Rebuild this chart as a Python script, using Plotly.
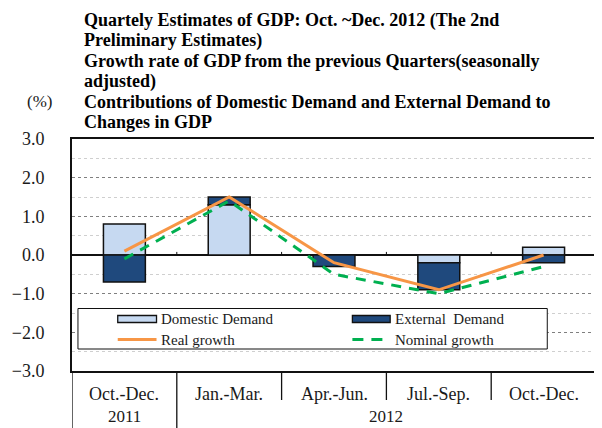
import plotly.graph_objects as go

# ---- data ----
periods = ["Oct.-Dec.", "Jan.-Mar.", "Apr.-Jun.", "Jul.-Sep.", "Oct.-Dec."]
years = ["2011", "2012", "2012", "2012", "2012"]
domestic = [0.8, 1.3, 0.0, -0.2, 0.2]
external = [-0.7, 0.2, -0.3, -0.7, -0.2]
real_growth = [0.1, 1.5, -0.2, -0.9, 0.0]
nominal_growth = [-0.1, 1.4, -0.5, -1.0, -0.3]
y_ticks = [-3, -2, -1, 0, 1, 2, 3]
y_ticktext = [("−" if v < 0 else "") + f"{abs(v):.1f}" for v in y_ticks]
title_lines = [
    "Quartely Estimates of GDP: Oct. ~Dec. 2012 (The 2nd",
    "Preliminary Estimates)",
    "Growth rate of GDP from the previous Quarters(seasonally",
    "adjusted)",
    "Contributions of Domestic Demand and External Demand to",
    "Changes in GDP",
]
legend_names = ["Domestic Demand", "External\u00a0\u00a0Demand", "Real growth", "Nominal growth"]

# ---- styles ----
C_DOM = "#C6D9F1"
C_EXT = "#1F497D"
C_REAL = "#F79646"
C_NOM = "#00B050"
SERIF = "Liberation Serif"

# the page body has an 8px margin; work in window pixels and compensate
OFF = 8
WIN_W, WIN_H = 602, 428
W, H = WIN_W - OFF, WIN_H - OFF
L, R, T, B = 71 - OFF, 4, 139 - OFF, 57
PW, PH = W - L - R, H - T - B


def px(xp):
    return (xp - OFF - L) / PW


def py(yp):
    return (H - B - (yp - OFF)) / PH


keys = [f"{p} {y}" for p, y in zip(periods, years)]

fig = go.Figure()
fig.add_trace(go.Bar(x=keys, y=domestic, name=legend_names[0], width=0.4,
                     marker=dict(color=C_DOM, line=dict(color="#111111", width=1.5)),
                     showlegend=False))
fig.add_trace(go.Bar(x=keys, y=external, name=legend_names[1], width=0.4,
                     marker=dict(color=C_EXT, line=dict(color="#111111", width=1.5)),
                     showlegend=False))
fig.add_trace(go.Scatter(x=keys, y=real_growth, name=legend_names[2], mode="lines",
                         line=dict(color=C_REAL, width=3), showlegend=False))
fig.add_trace(go.Scatter(x=keys, y=nominal_growth, name=legend_names[3], mode="lines",
                         line=dict(color=C_NOM, width=3, dash="10px,8px"), showlegend=False))

shapes = []
annotations = []

# small ticks on the zero line at category boundaries
n = len(keys)
for k in range(n - 1):
    shapes.append(dict(type="line", xref="x", yref="y", x0=k + 0.5, x1=k + 0.5,
                       y0=0, y1=0.08, line=dict(color="#111111", width=1)))

# category table below the plot
row1_bottom = py(400)
fig_bottom = py(WIN_H)
for k in range(-1, n):
    xb = k + 0.5
    if k == -1 or k == n - 1 or years[k] != years[k + 1]:
        y_end = fig_bottom
    else:
        y_end = row1_bottom
    shapes.append(dict(type="line", xref="x", yref="paper", x0=xb, x1=xb,
                       y0=0, y1=y_end, line=dict(color="#111111", width=1.3)))

for k, p in enumerate(periods):
    annotations.append(dict(x=keys[k], y=py(393.5), xref="x", yref="paper", text=p,
                            showarrow=False, xanchor="center", yanchor="middle",
                            font=dict(family=SERIF, size=18, color="#1a1a1a")))
# year groups
start = 0
for k in range(1, n + 1):
    if k == n or years[k] != years[start]:
        center = (start + k - 1) / 2
        annotations.append(dict(x=center, y=py(WIN_H), xref="x", yref="paper",
                                text=years[start], showarrow=False,
                                xanchor="center", yanchor="bottom",
                                font=dict(family=SERIF, size=17, color="#1a1a1a")))
        start = k

# manual legend
shapes.append(dict(type="rect", xref="paper", yref="paper", x0=px(77), x1=px(549),
                   y0=py(308.5), y1=py(349), fillcolor="white",
                   line=dict(color="#111111", width=1), layer="above"))
shapes.append(dict(type="rect", xref="paper", yref="paper", x0=px(117), x1=px(156),
                   y0=py(315.5), y1=py(322.5), fillcolor=C_DOM,
                   line=dict(color="#111111", width=1.3), layer="above"))
shapes.append(dict(type="rect", xref="paper", yref="paper", x0=px(353), x1=px(391),
                   y0=py(315.5), y1=py(322.5), fillcolor=C_EXT,
                   line=dict(color="#111111", width=1.3), layer="above"))
shapes.append(dict(type="line", xref="paper", yref="paper", x0=px(117), x1=px(156),
                   y0=py(339.5), y1=py(339.5), line=dict(color=C_REAL, width=3), layer="above"))
shapes.append(dict(type="line", xref="paper", yref="paper", x0=px(353), x1=px(384),
                   y0=py(339.5), y1=py(339.5), line=dict(color=C_NOM, width=3, dash="11px,8px"),
                   layer="above"))
for name, xl, yl in [(legend_names[0], 159, 319), (legend_names[1], 394, 319),
                     (legend_names[2], 159, 340), (legend_names[3], 394, 340)]:
    annotations.append(dict(x=px(xl), y=py(yl), xref="paper", yref="paper", text=name,
                            showarrow=False, xanchor="left", yanchor="middle",
                            font=dict(family=SERIF, size=15, color="#1a1a1a")))

# title lines
title_centers = [20.5, 40.8, 61.1, 81.4, 101.7, 122.0]
for line, yc in zip(title_lines, title_centers):
    annotations.append(dict(x=px(81), y=py(yc), xref="paper", yref="paper", text=line,
                            showarrow=False, xanchor="left", yanchor="middle",
                            font=dict(family=SERIF, size=18, color="#000000", weight="bold")))
annotations.append(dict(x=px(38), y=py(101), xref="paper", yref="paper", text="(%)",
                        showarrow=False, xanchor="center", yanchor="middle",
                        font=dict(family=SERIF, size=17, color="#1a1a1a")))

fig.update_layout(
    width=W, height=H,
    margin=dict(l=L, r=R, t=T, b=B, pad=0),
    paper_bgcolor="white", plot_bgcolor="white",
    barmode="relative",
    showlegend=False,
    shapes=shapes,
    annotations=annotations,
    xaxis=dict(type="category", range=[-0.5, n - 0.5], showticklabels=False,
               ticks="", showgrid=False, showline=True, mirror=True,
               linecolor="#111111", linewidth=2, zeroline=False),
    yaxis=dict(range=[-3, 3], tickvals=y_ticks, ticktext=y_ticktext, ticks="",
               ticklabelstandoff=22,
               tickfont=dict(family=SERIF, size=18, color="#1a1a1a"),
               showgrid=True, gridcolor="#7f7f7f", griddash="dot", gridwidth=1,
               minor=dict(dtick=0.5, showgrid=True, gridcolor="#cfcfcf", gridwidth=1.3),
               zeroline=True, zerolinecolor="#111111", zerolinewidth=1.5,
               showline=True, mirror=True, linecolor="#111111", linewidth=2),
)

fig.write_html("out.html")
